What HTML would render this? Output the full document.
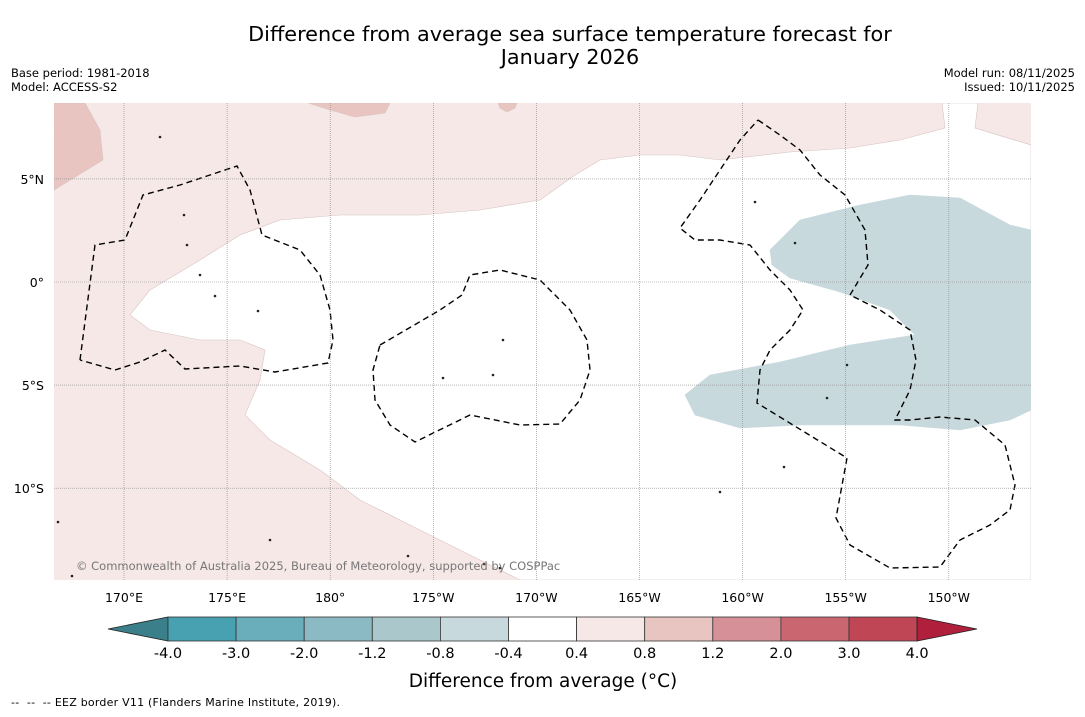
<!DOCTYPE html>
<html><head><meta charset="utf-8"><style>
body{margin:0;background:#fff;width:1085px;height:713px;overflow:hidden;font-family:"DejaVu Sans","Liberation Sans",sans-serif;}
svg text{font-family:"DejaVu Sans","Liberation Sans",sans-serif;white-space:pre;}
</style></head><body>
<svg id="c" width="1085" height="713"></svg>
<script>
const lonTicks=['170°E','175°E','180°','175°W','170°W','165°W','160°W','155°W','150°W'];
const lonVals=[170,175,180,185,190,195,200,205,210];
const latTicks=['5°N','0°','5°S','10°S'];
const latVals=[5,0,-5,-10];
const cbLevels=['-4.0','-3.0','-2.0','-1.2','-0.8','-0.4','0.4','0.8','1.2','2.0','3.0','4.0'];
const cbColors=['#47a1b1','#6aadbb','#8bb9c4','#aac8cc','#c8d9dd','#ffffff','#f5e8e7','#e8c5c1','#d69098','#c96670','#bf4655'];
const ns='http://www.w3.org/2000/svg';
const svg=document.getElementById('c');
function mk(t,a,p){const e=document.createElementNS(ns,t);for(const k in a)e.setAttribute(k,a[k]);(p||svg).appendChild(e);return e;}
const X0=54,X1=1031,Y0=103,Y1=580;
const xLon=l=>124+(l-170)*20.62;
const yLat=l=>282-l*20.62;
// title
let t=mk('text',{x:570,y:41,'text-anchor':'middle','font-size':20.8});t.textContent='Difference from average sea surface temperature forecast for';

t=mk('text',{x:570,y:64,'text-anchor':'middle','font-size':20.8});t.textContent='January 2026';

[['Base period: 1981-2018',11,77,'start','base-period'],['Model: ACCESS-S2',11,91,'start','model-name'],['Model run: 08/11/2025',1075,77,'end','model-run'],['Issued: 10/11/2025',1075,91,'end','issued-date']].forEach(d=>{const e=mk('text',{x:d[1],y:d[2],'text-anchor':d[3],'font-size':11.5});e.textContent=d[0];});
// map
const g=mk('g',{});
mk('defs',{}).innerHTML='<clipPath id="cp"><rect x="54" y="103" width="977" height="477"/></clipPath>';
g.setAttribute('clip-path','url(#cp)');
mk('rect',{x:X0,y:Y0,width:X1-X0,height:Y1-Y0,fill:'#f5e8e7'},g);
const P=(pts,fill,name,stroke)=>{const e=mk('polygon',{points:pts,fill:fill,stroke:stroke||'#d8c4c2','stroke-width':0.6},g);return e;};
P('1031,145 975,128 978,103 942,103 945,128 900,140 850,148 790,152 720,160 680,155 640,155 600,160 575,175 540,200 480,210 420,215 340,215 280,220 240,235 200,260 150,290 130,315 150,330 200,340 240,340 265,350 260,380 245,415 270,440 320,470 360,500 420,530 470,555 520,580 1031,580','#ffffff','neutral-region');
P('54,103 85,103 100,130 103,160 54,190','#e8c5c1','warm-region-nw');
P('308,103 390,103 385,113 355,117 330,110','#e8c5c1','warm-region-n');
P('498,103 517,103 515,108 507,112 500,108','#e8c5c1','warm-blob');
P('770,250 800,220 860,205 910,195 960,198 1010,225 1031,230 1031,410 1010,420 960,430 900,425 800,425 740,428 695,415 685,395 710,375 780,362 850,345 915,335 890,310 840,292 790,278 772,265','#c8d9dd','cool-region','#c8d9dd');
// grid
lonVals.forEach((v,i)=>{const l=mk('line',{x1:xLon(v),x2:xLon(v),y1:Y0,y2:Y1,stroke:'#888','stroke-width':0.6,'stroke-dasharray':'1,1'});
 const e=mk('text',{x:xLon(v),y:602,'text-anchor':'middle','font-size':12.5});e.textContent=lonTicks[i];});
latVals.forEach((v,i)=>{const l=mk('line',{x1:X0,x2:X1,y1:yLat(v),y2:yLat(v),stroke:'#888','stroke-width':0.6,'stroke-dasharray':'1,1'});
 const e=mk('text',{x:44,y:yLat(v)+5,'text-anchor':'end','font-size':12.5});e.textContent=latTicks[i];});
// EEZ
const eez=['80,360 95,245 125,240 143,195 180,185 237,166 250,190 262,235 300,250 320,275 330,310 333,340 328,363 275,372 240,366 185,369 165,350 140,362 115,370 80,360',
'380,345 440,310 462,295 470,275 500,270 540,280 570,310 587,340 590,370 580,400 560,424 520,425 470,415 415,442 390,425 375,400 373,370 380,345',
'758,120 780,135 800,150 820,175 845,195 865,230 868,265 850,295 880,310 910,330 916,360 910,390 895,420 910,420 940,417 975,420 1005,445 1015,485 1010,510 990,525 960,540 940,567 890,568 850,545 836,518 847,458 757,403 760,370 770,350 790,330 803,310 790,290 770,270 750,245 720,240 695,240 680,228 700,200 720,170 740,140 758,120'];
eez.forEach(p=>{const e=mk('polyline',{points:p,fill:'none',stroke:'#000','stroke-width':1.4,'stroke-dasharray':'6,4'},g);});
[[160,137],[184,215],[187,245],[200,275],[215,296],[258,311],[503,340],[493,375],[443,378],[755,202],[795,243],[847,365],[827,398],[784,467],[720,492],[484,564],[500,568],[58,522],[72,576],[270,540],[408,556]].forEach(d=>{const e=mk('circle',{cx:d[0],cy:d[1],r:1.3,fill:'#222'},g);});
t=mk('text',{x:76,y:570,'font-size':11.5,fill:'#777'});t.textContent='© Commonwealth of Australia 2025, Bureau of Meteorology, supported by COSPPac';
// colorbar
const cx0=168,cw=68.1,cy=617,ch=24;
let e=mk('polygon',{points:`108,629 ${cx0},${cy} ${cx0},${cy+ch}`,fill:'#3a7f89',stroke:'#222','stroke-width':0.8});
cbColors.forEach((c,i)=>{const r=mk('rect',{x:cx0+i*cw,y:cy,width:cw,height:ch,fill:c,stroke:'#333','stroke-width':0.8});});
e=mk('polygon',{points:`${cx0+11*cw},${cy} 977,629 ${cx0+11*cw},${cy+ch}`,fill:'#b01f3c',stroke:'#222','stroke-width':0.8});
cbLevels.forEach((l,i)=>{const e=mk('text',{x:cx0+i*cw,y:658,'text-anchor':'middle','font-size':14.5});e.textContent=l;});
t=mk('text',{x:543,y:687,'text-anchor':'middle','font-size':18.5});t.textContent='Difference from average (\u00B0C)';
t=mk('text',{x:11,y:706,'font-size':11,textLength:329});t.textContent='--  --  -- EEZ border V11 (Flanders Marine Institute, 2019).';
</script>
</body></html>
